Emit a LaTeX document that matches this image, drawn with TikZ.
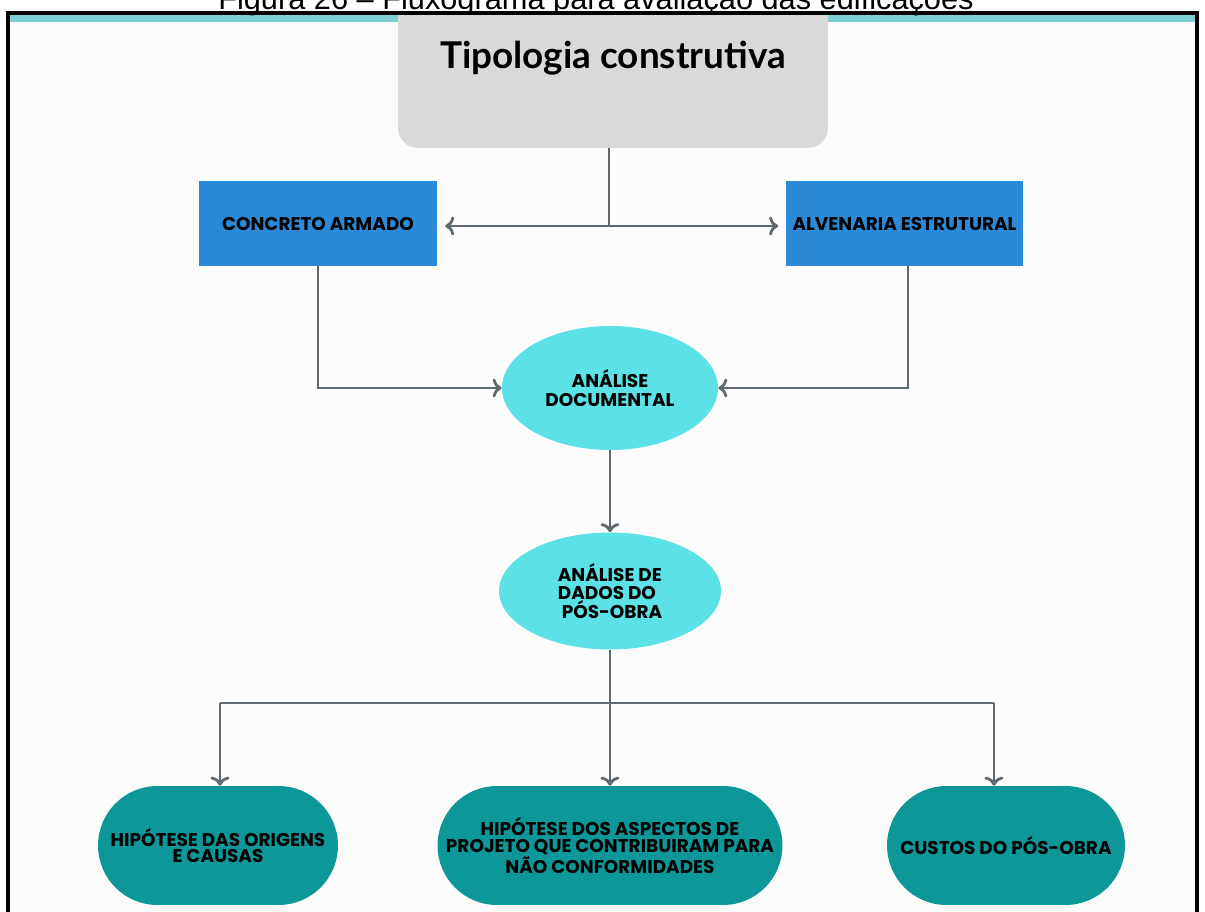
\documentclass[tikz,border=0pt]{standalone}
\usepackage{fontspec}
\setmainfont{Liberation Sans}
\newfontfamily\caixafont{Poppins}
\newfontfamily\titulofont{Lato}
\usetikzlibrary{shapes.geometric,arrows.meta}

\definecolor{cinza}{HTML}{D9D9D9}
\definecolor{azul}{HTML}{2B8AD8}
\definecolor{ciano}{HTML}{5CE1E6}
\definecolor{petroleo}{HTML}{0E9799}
\definecolor{linha}{HTML}{5E6970}
\definecolor{faixa}{HTML}{7ECFCF}
\definecolor{fundo}{HTML}{FCFCFC}

\tikzset{
  caixa/.style={rectangle, fill=azul, minimum width=4.76cm, minimum height=1.7cm, inner sep=0pt,
    font=\caixafont\bfseries\fontsize{10.5}{12}\selectfont},
  elipse/.style={ellipse, fill=ciano, inner sep=0pt, align=center,
    font=\caixafont\bfseries\fontsize{10.5}{10.5}\selectfont},
  pilula/.style={rectangle, fill=petroleo, rounded corners=1.19cm, minimum height=2.38cm,
    inner sep=0pt, align=center, font=\caixafont\bfseries\fontsize{10.5}{9.5}\selectfont},
  fio/.style={draw=linha, line width=1.6pt},
  liga/.style={fio, ->},
}

\begin{document}
\begin{tikzpicture}[x=0.02cm, y=-0.02cm]
\useasboundingbox (0,0) rectangle (1205,912);
% moldura
\fill[fundo] (8,13) rectangle (1197,912);
\fill[faixa] (8,13) rectangle (1197,22);
\node[anchor=base, font=\fontsize{17.5}{17.5}\selectfont] (legenda) at (596,10)
  {Figura 26 -- Fluxograma para avaliação das edificações};
\begin{scope}
\clip (8,14) rectangle (1197,912);
\node[fill=cinza, rounded corners=0.4cm, minimum width=8.6cm, minimum height=3.4cm] (tipo) at (613,63) {};
\end{scope}
\draw[line width=1.8pt] (8,912) -- (8,13) -- (1197,13) -- (1197,912);
\node[font=\titulofont\bfseries\fontsize{21}{21}\selectfont] (titulo) at (613,58) {Tipologia construtiva};

% tipos
\node[caixa] (concreto) at (318,223.5) {CONCRETO ARMADO};
\node[caixa] (alvenaria) at (904.5,223.5) {ALVENARIA ESTRUTURAL};
\coordinate (meio) at (609,226);
\draw[fio] (tipo.south -| meio) -- (meio);
\draw[liga, shorten >=4.5pt] (meio) -- (meio -| concreto.east);
\draw[liga, shorten >=4pt] (meio) -- (meio -| alvenaria.west);

% analises
\node[elipse, minimum width=4.32cm, minimum height=2.48cm] (doc) at (610,388) {ANÁLISE\\DOCUMENTAL};
\node[elipse, minimum width=4.44cm, minimum height=2.34cm, align=left] (dados) at (610,591)
  {ANÁLISE DE\\DADOS DO\\\ PÓS-OBRA};
\draw[liga] (concreto.south) |- (doc.west);
\draw[liga] (alvenaria.south -| 908,0) |- (doc.east);
\draw[liga] (doc.south) -- (dados.north);

% hipoteses
\node[pilula, minimum width=4.8cm] (origens) at (218,845.5) {HIPÓTESE DAS ORIGENS\\E CAUSAS};
\node[pilula, minimum width=6.9cm] (projeto) at (610,845.5)
  {HIPÓTESE DOS ASPECTOS DE\\PROJETO QUE CONTRIBUIRAM PARA\\NÃO CONFORMIDADES};
\node[pilula, minimum width=4.76cm] (custos) at (1006,845.5) {CUSTOS DO PÓS-OBRA};
\coordinate (ramo) at (610,703);
\draw[fio] (dados.south) -- (ramo);
\draw[fio] (220,703) -- (994,703);
\draw[liga] (ramo -| 220,0) -- (origens.north -| 220,0);
\draw[liga] (ramo) -- (projeto.north);
\draw[liga] (ramo -| 994,0) -- (custos.north -| 994,0);
\end{tikzpicture}
\end{document}
